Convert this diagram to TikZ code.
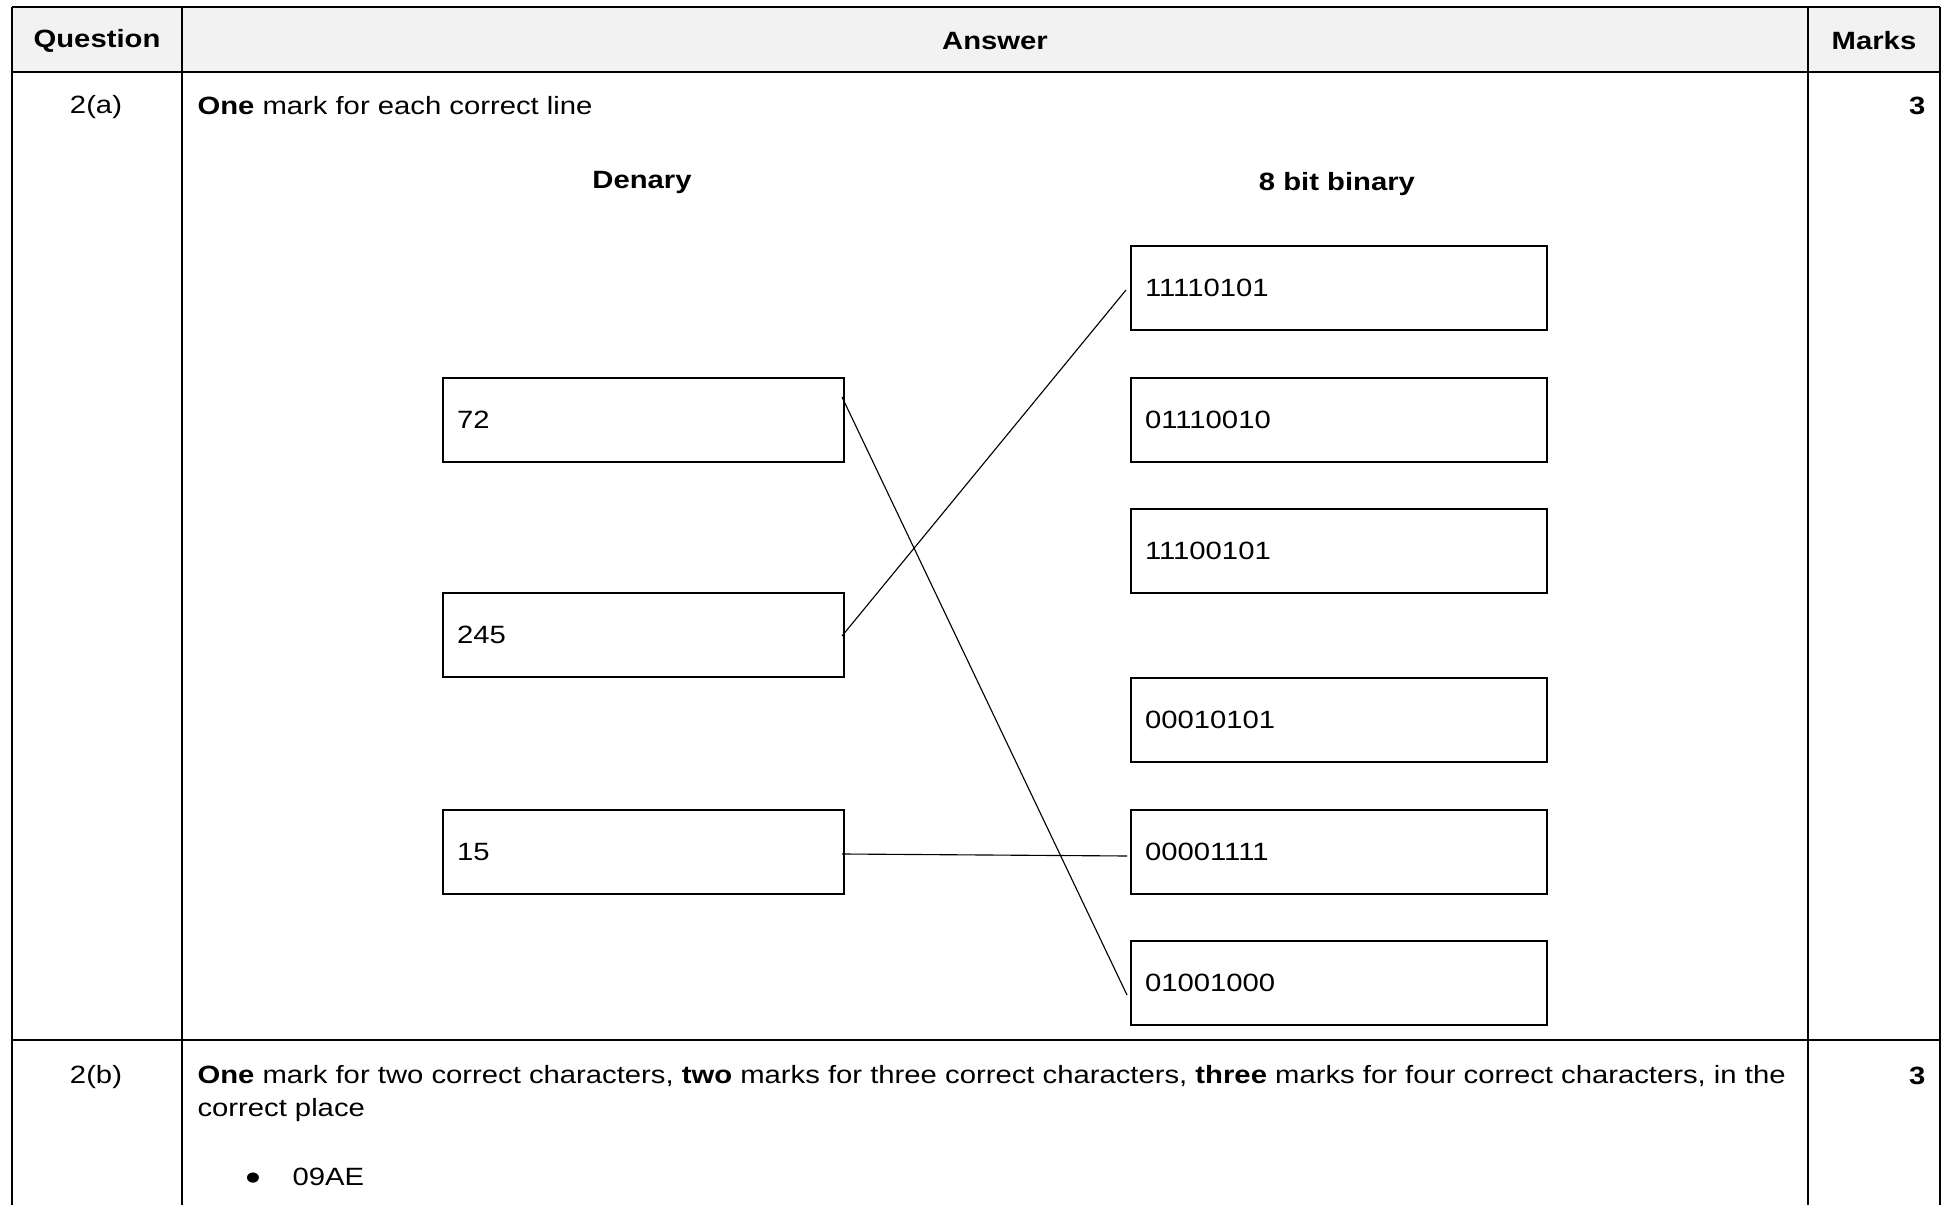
\documentclass[tikz,border=0pt]{standalone}
\usepackage{fontspec}
\setmainfont{Liberation Sans}[FakeStretch=1.17]
\usepackage{tikz}
\usetikzlibrary{positioning}

\definecolor{headgray}{HTML}{F2F2F2}

\tikzset{
    denbox/.style={draw, line width=0.8pt, anchor=north west, minimum width=160.4pt,
        minimum height=33.6pt, text width=149.2pt, inner xsep=5.6pt, align=left},
    binbox/.style={draw, line width=0.8pt, anchor=north west, minimum width=166.4pt,
        minimum height=33.6pt, text width=155.2pt, inner xsep=5.6pt, align=left},
    match/.style={line width=0.45pt},
    cell/.style={inner sep=0pt},
}

\begin{document}
\begin{tikzpicture}[x=0.4pt, y=-0.4pt, font=\fontsize{10}{13.2}\selectfont]
        \useasboundingbox (0,0) rectangle (1942,1205);

        % Draw the table
            \fill[headgray] (12,7) rectangle (1940,72);
            \draw[line width=0.8pt] (12,7) -- (1940,7);
            \draw[line width=0.8pt] (12,72) -- (1940,72);
            \draw[line width=0.8pt] (12,1040) -- (1940,1040);
            \draw[line width=0.8pt] (12,7) -- (12,1205);
            \draw[line width=0.8pt] (182,7) -- (182,1205);
            \draw[line width=0.8pt] (1808,7) -- (1808,1205);
            \draw[line width=0.8pt] (1940,7) -- (1940,1205);

        % Header texts
            \node[cell] (qhead) at (97,41) {\bfseries Question};
            \node[cell] (ahead) at (995,41) {\bfseries Answer};
            \node[cell] (mhead) at (1874,41) {\bfseries Marks};

        % Part (a)
            \node[cell] (qa) at (96,107) {2(a)};
            \node[cell, anchor=west] (ta) at (197,106) {\textbf{One} mark for each correct line};
            \node[cell, anchor=east] (ma) at (1926,106) {\bfseries 3};

            \node[cell] (denary) at (642,182) {\bfseries Denary};
            \node[cell] (binary) at (1337,184) {\bfseries 8 bit binary};

        % Draw the denary boxes
            \node[denbox] (d72) at (442,377) {72};
            \node[denbox] (d245) at (442,592) {245};
            \node[denbox] (d15) at (442,809) {15};

        % Draw the binary boxes
            \node[binbox] (b11110101) at (1130,245) {11110101};
            \node[binbox] (b01110010) at (1130,377) {01110010};
            \node[binbox] (b11100101) at (1130,508) {11100101};
            \node[binbox] (b00010101) at (1130,677) {00010101};
            \node[binbox] (b00001111) at (1130,809) {00001111};
            \node[binbox] (b01001000) at (1130,940) {01001000};

        % Draw the matching lines
            \draw[match] ([shift={(-3,-23)}]d72.east) -- ([shift={(-3,12)}]b01001000.west);
            \draw[match] ([shift={(-3,1)}]d245.east) -- ([shift={(-4,2)}]b11110101.west);
            \draw[match] ([shift={(-3,2)}]d15.east) -- ([shift={(-3,4)}]b00001111.west);

        % Part (b)
            \node[cell] (qb) at (96,1077) {2(b)};
            \node[cell, anchor=north west, align=left] (tb) at (197,1065)
                {\textbf{One} mark for two correct characters, \textbf{two} marks for three correct characters, \textbf{three} marks for four correct characters, in the\\correct place};
            \node[cell, anchor=east] (mb) at (1926,1076) {\bfseries 3};
            \node[cell] (bul) at (253,1182) {\fontsize{15}{15}\selectfont\textbullet};
            \node[cell, anchor=west] (ans) at (292,1177) {09AE};
    \end{tikzpicture}
\end{document}
